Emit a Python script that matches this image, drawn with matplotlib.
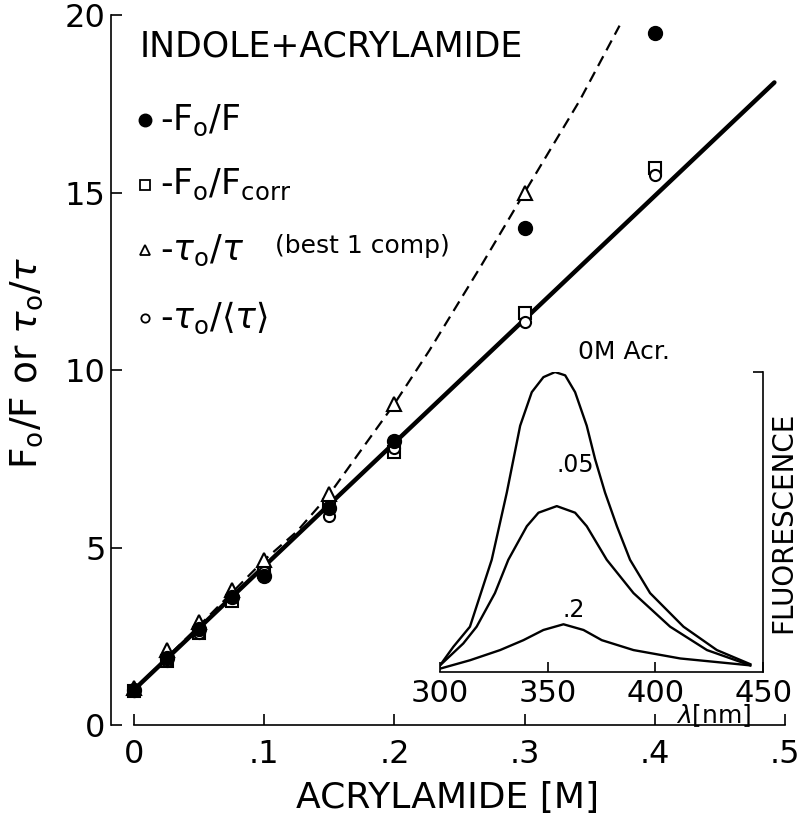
# Indole + acrylamide quenching (Stern-Volmer) with emission spectra inset

import matplotlib
matplotlib.use('Agg')
import matplotlib.pyplot as plt

# quencher concentrations [M]
conc = [0, 0.025, 0.05, 0.075, 0.1, 0.15, 0.2, 0.3, 0.4]

# F0/F (filled circles)
f_ratio = [1.0, 1.9, 2.7, 3.6, 4.2, 6.1, 8.0, 14.0, 19.5]
# F0/Fcorr (open squares)
f_corr = [0.95, 1.8, 2.6, 3.5, 4.3, 6.2, 7.7, 11.6, 15.7]
# tau0/tau best 1 comp (open triangles), no point at 0.4
conc_tau = [0, 0.025, 0.05, 0.075, 0.1, 0.15, 0.2, 0.3]
tau_1comp = [1.05, 2.1, 2.9, 3.8, 4.65, 6.5, 9.05, 15.0]
# tau0/<tau> (small open circles)
tau_mean = [0.95, 1.8, 2.6, 3.6, 4.3, 5.9, 7.8, 11.35, 15.5]

# straight fit line (solid)
fit_x = [0, 0.492]
fit_y = [1.0, 18.1]

# dashed curve through the lifetime points
dash_x = [0, 0.05, 0.1, 0.125, 0.15, 0.2, 0.227, 0.266, 0.3, 0.3425, 0.373]
dash_y = [1.0, 2.8, 4.65, 5.45, 6.5, 9.05, 10.56, 12.9, 15.0, 17.6, 19.7]

# inset emission spectra (normalised to 0 M peak)
wl_0 = [300, 306.2, 313.9, 324.0, 331.0, 337.2, 342.6, 348.0, 353.4, 358.1,
        362.7, 368.1, 372.0, 376.6, 382.1, 388.2, 397.5, 413.0, 428.5, 444.0]
spec_0 = [0.022, 0.084, 0.151, 0.374, 0.598, 0.821, 0.933, 0.983, 1.0, 0.989,
          0.933, 0.821, 0.709, 0.598, 0.486, 0.374, 0.263, 0.151, 0.073, 0.026]
wl_05 = [300, 310.8, 317.0, 325.5, 331.7, 340.3, 345.7, 354.2, 362.7, 368.1,
         377.4, 389.8, 406.8, 423.9, 444.0]
spec_05 = [0.022, 0.095, 0.151, 0.263, 0.374, 0.486, 0.531, 0.553, 0.531, 0.486,
           0.374, 0.263, 0.151, 0.073, 0.022]
wl_2 = [300, 313.9, 327.9, 338.7, 348.0, 357.3, 366.6, 375.1, 389.8, 411.5, 444.0]
spec_2 = [0.011, 0.039, 0.073, 0.106, 0.140, 0.159, 0.140, 0.106, 0.073, 0.045, 0.022]

plt.rcParams['font.family'] = 'DejaVu Sans'
plt.rcParams['mathtext.fontset'] = 'dejavusans'

fig = plt.figure(figsize=(8, 8.15), dpi=100)
ax = fig.add_axes([0.139, 0.1104, 0.842, 0.8712])

ax.plot(fit_x, fit_y, color='black', lw=3.2, solid_capstyle='round', zorder=2)
ax.plot(dash_x, dash_y, color='black', lw=1.6, dashes=(5, 3), zorder=2)

ms = 9
ax.plot(conc, f_corr, 's', ms=ms, mfc='white', mec='black', mew=1.5, zorder=3)
ax.plot(conc, tau_mean, 'o', ms=ms - 1, mfc='white', mec='black', mew=1.5, zorder=3)
ax.plot(conc_tau, tau_1comp, '^', ms=ms + 1, mfc='white', mec='black', mew=1.5, zorder=3)
ax.plot(conc, f_ratio, 'o', ms=ms + 1, color='black', zorder=4)

ax.set_xlim(-0.0177, 0.5)
ax.set_ylim(0, 20)
ax.spines['top'].set_visible(False)
ax.spines['right'].set_visible(False)
ax.spines['bottom'].set_bounds(0, 0.5)
ax.spines['left'].set_linewidth(1.2)
ax.spines['bottom'].set_linewidth(1.2)

ax.set_xticks([0, 0.1, 0.2, 0.3, 0.4, 0.5])
ax.set_xticklabels(['0', '.1', '.2', '.3', '.4', '.5'])
ax.set_yticks([0, 5, 10, 15, 20])
ax.tick_params(direction='in', length=8, width=1.2, labelsize=23)
ax.tick_params(axis='x', pad=10)
ax.tick_params(axis='y', pad=4)
ax.set_xlabel('ACRYLAMIDE [M]', fontsize=26, labelpad=8)
ax.set_ylabel(r'F$_\mathregular{o}$/F or $\tau_\mathregular{o}/\tau$', fontsize=27)
ax.yaxis.set_label_coords(-0.098, 0.51)

# legend written by hand, as in the figure
tr = ax.transAxes
ax.text(0.042, 0.955, 'INDOLE+ACRYLAMIDE', transform=tr, fontsize=25,
        va='center', ha='left')
rows = [0.852, 0.761, 0.669, 0.573]
mx = 0.05
ax.plot(mx, rows[0], 'o', ms=9, color='black', transform=tr, clip_on=False)
ax.plot(mx, rows[1], 's', ms=7, mfc='white', mec='black', mew=1.3, transform=tr)
ax.plot(mx, rows[2], '^', ms=7, mfc='white', mec='black', mew=1.3, transform=tr)
ax.plot(mx, rows[3], 'o', ms=6, mfc='white', mec='black', mew=1.3, transform=tr)
tx = 0.072
ax.text(tx, rows[0], r'-F$_\mathregular{o}$/F', transform=tr, fontsize=25, va='center')
ax.text(tx, rows[1], r'-F$_\mathregular{o}$/F$_\mathregular{corr}$',
        transform=tr, fontsize=25, va='center')
ax.text(tx, rows[2], r'-$\tau_\mathregular{o}/\tau$', transform=tr,
        fontsize=25, va='center')
ax.text(0.243, rows[2] + 0.005, '(best 1 comp)', transform=tr, fontsize=18, va='center')
ax.text(tx, rows[3], r'-$\tau_\mathregular{o}/\langle\tau\rangle$',
        transform=tr, fontsize=25, va='center')

# inset: emission spectra
ins = fig.add_axes([0.55, 0.1755, 0.404, 0.368])
ins.patch.set_alpha(0)
ins.plot(wl_0, spec_0, color='black', lw=1.7)
ins.plot(wl_05, spec_05, color='black', lw=1.7)
ins.plot(wl_2, spec_2, color='black', lw=1.7)
ins.set_xlim(300, 450)
ins.set_ylim(0, 1.0)
ins.spines['top'].set_visible(False)
ins.spines['left'].set_visible(False)
ins.spines['right'].set_linewidth(1.2)
ins.spines['bottom'].set_linewidth(1.2)
ins.set_xticks([300, 350, 400, 450])
ins.tick_params(axis='x', direction='in', length=7, width=1.2, labelsize=22, pad=5)
ins.yaxis.tick_right()
ins.set_yticks([1.0])
ins.set_yticklabels([''])
ins.tick_params(axis='y', direction='in', length=7, width=1.2)
ins.text(364, 1.067, '0M Acr.', fontsize=18, ha='left', va='center')
ins.text(354, 0.69, '.05', fontsize=17, ha='left', va='center')
ins.text(357, 0.205, '.2', fontsize=17, ha='left', va='center')
ins.text(1.063, 0.5, 'FLUORESCENCE', transform=ins.transAxes, rotation=90,
         fontsize=20, ha='center', va='center')
ins.text(0.965, -0.145, r'$\lambda$[nm]', transform=ins.transAxes, fontsize=18,
         ha='right', va='center')

fig.savefig('out.png', dpi=100)
